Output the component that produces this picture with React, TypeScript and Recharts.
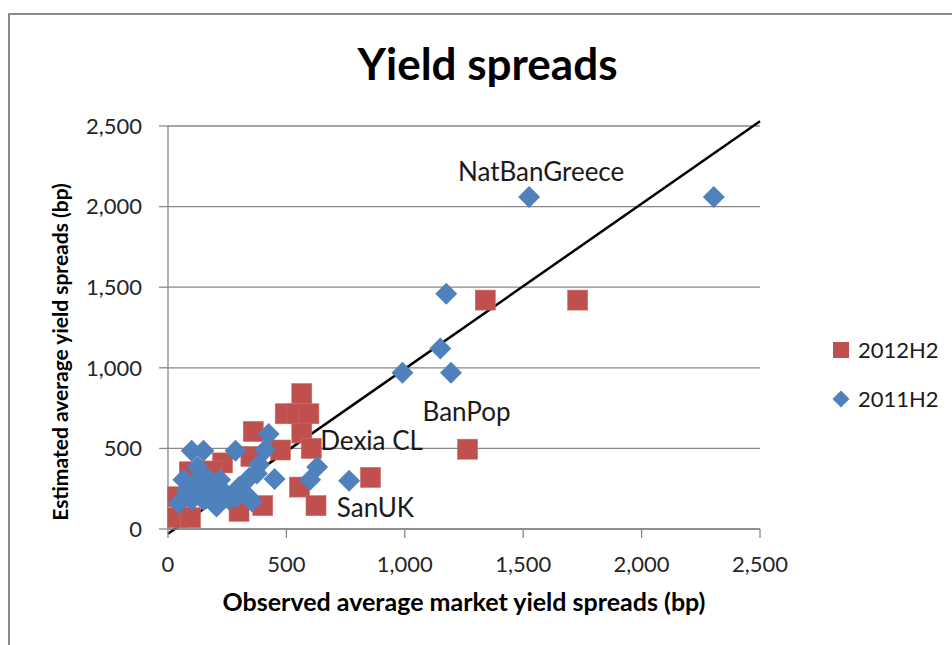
import { ScatterChart, Scatter, XAxis, YAxis, CartesianGrid, ReferenceLine, Legend, LabelList } from "recharts";

// observed (x) vs estimated (y) average yield spreads, bp
const spreads2012 = [
  { x: 1730, y: 1420 },
  { x: 1340, y: 1420 },
  { x: 1265, y: 495, label: "BanPop" },
  { x: 855, y: 320, label: "SanUK" },
  { x: 565, y: 840 },
  { x: 495, y: 715 },
  { x: 545, y: 715 },
  { x: 595, y: 715 },
  { x: 565, y: 595 },
  { x: 605, y: 500, label: "Dexia CL" },
  { x: 475, y: 490 },
  { x: 360, y: 605 },
  { x: 555, y: 260 },
  { x: 625, y: 145 },
  { x: 400, y: 145 },
  { x: 40, y: 200 },
  { x: 40, y: 70 },
  { x: 95, y: 70 },
  { x: 230, y: 410 },
  { x: 185, y: 360 },
  { x: 350, y: 450 },
  { x: 90, y: 355 },
  { x: 300, y: 110 },
];

const spreads2011 = [
  { x: 1525, y: 2060, label: "NatBanGreece" },
  { x: 2305, y: 2060 },
  { x: 1175, y: 1460 },
  { x: 1150, y: 1120 },
  { x: 990, y: 970 },
  { x: 1195, y: 970 },
  { x: 765, y: 300 },
  { x: 100, y: 485 },
  { x: 150, y: 485 },
  { x: 285, y: 485 },
  { x: 425, y: 590 },
  { x: 410, y: 490 },
  { x: 385, y: 400 },
  { x: 345, y: 320 },
  { x: 340, y: 200 },
  { x: 450, y: 310 },
  { x: 600, y: 305 },
  { x: 630, y: 385 },
  { x: 65, y: 305 },
  { x: 45, y: 160 },
  { x: 125, y: 385 },
  { x: 175, y: 305 },
  { x: 220, y: 305 },
  { x: 190, y: 200 },
  { x: 205, y: 140 },
  { x: 290, y: 200 },
  { x: 355, y: 170 },
  { x: 375, y: 345 },
  { x: 80, y: 240 },
  { x: 110, y: 250 },
  { x: 140, y: 330 },
  { x: 160, y: 260 },
  { x: 230, y: 240 },
  { x: 260, y: 180 },
  { x: 300, y: 260 },
  { x: 150, y: 180 },
  { x: 100, y: 180 },
];

const fitLine = [
  { x: 0, y: -30 },
  { x: 2500, y: 2530 },
];

const xTicks = [0, 500, 1000, 1500, 2000, 2500];
const yTicks = [0, 500, 1000, 1500, 2000, 2500];

const RED = "#C0504D";
const BLUE = "#4F81BD";
const AXIS = "#888888";
const FONT = "Lato, 'Noto Sans', sans-serif";

// where each data label sits relative to its point
const labelPlacement: Record<string, { dx: number; dy: number; anchor: "start" | "middle" }> = {
  NatBanGreece: { dx: 12, dy: -25, anchor: "middle" },
  BanPop: { dx: -1, dy: -37, anchor: "middle" },
  "Dexia CL": { dx: 9, dy: -8, anchor: "start" },
  SanUK: { dx: 5, dy: 30, anchor: "middle" },
};

const fmt = (v: number) => v.toLocaleString("en-US");

const SquareDot = (p: any) => (
  <rect x={p.cx - 10} y={p.cy - 10} width={20} height={20} fill={RED} stroke="#cf6a66" strokeWidth={0.6} />
);

const DiamondDot = (p: any) => (
  <polygon
    points={`${p.cx},${p.cy - 11} ${p.cx + 11},${p.cy} ${p.cx},${p.cy + 11} ${p.cx - 11},${p.cy}`}
    fill={BLUE}
  />
);

const PointLabel = (props: any) => {
  const { value } = props;
  if (!value || !labelPlacement[value]) return null;
  const vb = props.viewBox || props;
  const cx = vb.x + (vb.width || 0) / 2;
  const cy = vb.y + (vb.height || 0) / 2;
  const pl = labelPlacement[value];
  return (
    <text x={cx + pl.dx} y={cy + pl.dy} dy="0.35em" textAnchor={pl.anchor} fontFamily={FONT} fontSize={26} fill="#1a1a1a">
      {value}
    </text>
  );
};

const LegendBox = () => (
  <div style={{ fontFamily: FONT, fontSize: 22, color: "#1a1a1a", lineHeight: "26px" }}>
    <div style={{ display: "flex", alignItems: "center", height: 26, marginBottom: 23 }}>
      <svg width={18} height={18} style={{ marginRight: 8 }}>
        <rect x={1} y={1} width={16} height={16} fill={RED} />
      </svg>
      2012H2
    </div>
    <div style={{ display: "flex", alignItems: "center", height: 26 }}>
      <svg width={18} height={18} style={{ marginRight: 8 }}>
        <polygon points="9,0.5 17.5,9 9,17.5 0.5,9" fill={BLUE} />
      </svg>
      2011H2
    </div>
  </div>
);

export default function App() {
  return (
    <div style={{ position: "absolute", left: 0, top: 0, width: 952, height: 645, background: "#fff", overflow: "hidden" }}>
      <div
        style={{
          position: "absolute",
          left: 8,
          top: 13,
          width: 960,
          height: 650,
          borderLeft: "2px solid #8a8a8a",
          borderTop: "2px solid #8a8a8a",
        }}
      />
      <div
        style={{
          position: "absolute",
          left: 0,
          top: 41,
          width: 975,
          textAlign: "center",
          fontFamily: FONT,
          fontWeight: 700,
          fontSize: 44,
          lineHeight: "44px",
          color: "#000",
        }}
      >
        Yield spreads
      </div>
      <ScatterChart
        width={952}
        height={645}
        margin={{ top: 126, right: 192, bottom: 16, left: 20 }}
        style={{ position: "absolute", left: 0, top: 0 }}
      >
        <CartesianGrid horizontal vertical={false} stroke={AXIS} strokeWidth={1.3} />
        <XAxis
          type="number"
          dataKey="x"
          domain={[0, 2500]}
          ticks={xTicks}
          tickFormatter={fmt}
          height={100}
          tickSize={9}
          tickMargin={18}
          axisLine={{ stroke: AXIS, strokeWidth: 1.3 }}
          tickLine={{ stroke: AXIS, strokeWidth: 1.3 }}
          tick={{ fontFamily: FONT, fontSize: 22, fill: "#262626" }}
          label={{
            content: () => (
              <text x={464} y={611} textAnchor="middle" fontFamily={FONT} fontWeight={700} fontSize={25} fill="#000">
                Observed average market yield spreads (bp)
              </text>
            ),
          }}
        />
        <YAxis
          type="number"
          dataKey="y"
          domain={[0, 2500]}
          ticks={yTicks}
          tickFormatter={fmt}
          allowDataOverflow
          width={148}
          tickSize={9}
          tickMargin={17}
          axisLine={{ stroke: AXIS, strokeWidth: 1.3 }}
          tickLine={{ stroke: AXIS, strokeWidth: 1.3 }}
          tick={{ fontFamily: FONT, fontSize: 22, fill: "#262626" }}
          label={{
            content: () => (
              <text
                x={0}
                y={0}
                transform="translate(68, 352) rotate(-90)"
                textAnchor="middle"
                fontFamily={FONT}
                fontWeight={700}
                fontSize={21}
                fill="#000"
              >
                Estimated average yield spreads (bp)
              </text>
            ),
          }}
        />
        <Legend
          layout="horizontal"
          align="center"
          verticalAlign="middle"
          content={LegendBox}
          wrapperStyle={{ position: "absolute", left: 832, top: 337, right: "auto", bottom: "auto", width: 120 }}
        />
        <Scatter name="2012H2" data={spreads2012} shape={SquareDot} isAnimationActive={false}>
          <LabelList dataKey="label" content={PointLabel} />
        </Scatter>
        <Scatter name="2011H2" data={spreads2011} shape={DiamondDot} isAnimationActive={false}>
          <LabelList dataKey="label" content={PointLabel} />
        </Scatter>
        <ReferenceLine
          segment={[fitLine[0], fitLine[1]]}
          stroke="#000"
          strokeWidth={2.5}
          ifOverflow="visible"
        />
      </ScatterChart>
    </div>
  );
}
